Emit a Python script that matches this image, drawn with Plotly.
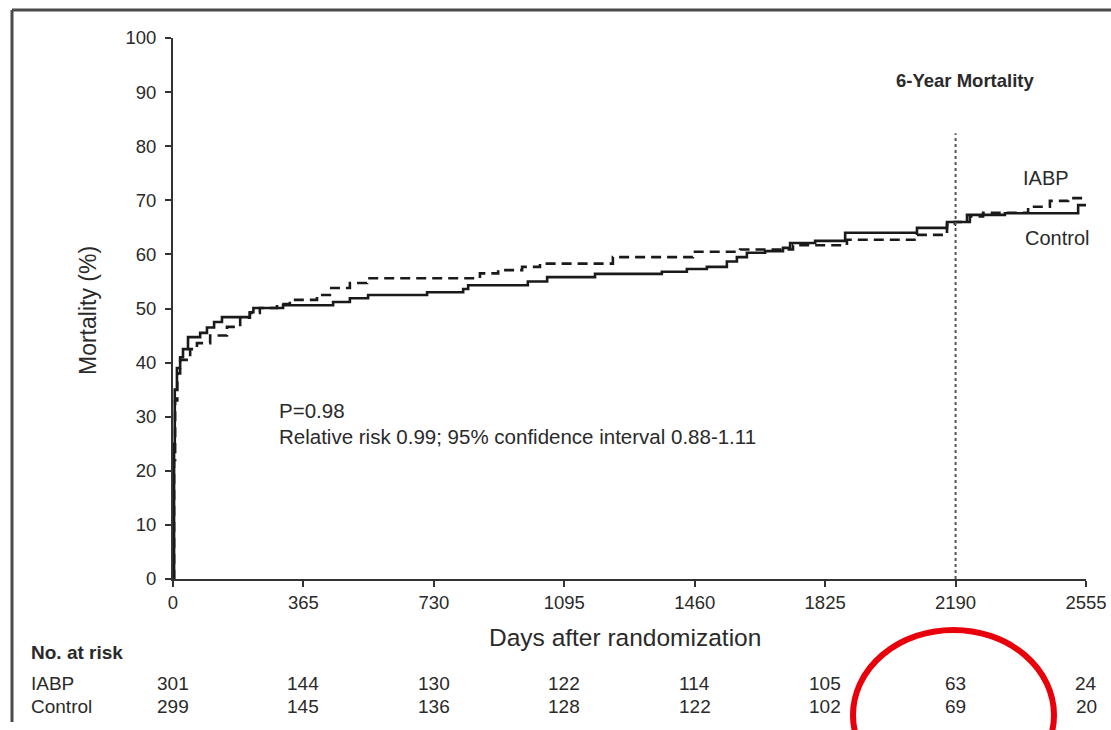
import plotly.graph_objects as go

# ---------------- data ----------------
control_days = [0, 3, 5, 11, 20, 28, 42, 76, 95, 115, 137, 215, 225, 235, 308, 448, 495, 546,
                711, 812, 826, 993, 1047, 1181, 1368, 1438, 1494, 1550, 1578, 1606, 1657, 1707,
                1727, 1797, 1881, 2082, 2166, 2222, 2328, 2533, 2555]
control_mort = [0, 25, 35, 39, 41, 42.5, 44.7, 45.5, 46.5, 47.5, 48.4, 49.3, 50.1, 50.1, 50.6, 51.2,
                51.9, 52.5, 53.0, 53.6, 54.3, 55.0, 55.8, 56.4, 56.8, 57.3, 57.7, 58.7, 59.5, 60.3,
                60.6, 61.2, 62.1, 62.5, 64.0, 64.9, 66.0, 67.3, 67.6, 69.1, 69.1]

iabp_days = [0, 3, 6, 12, 20, 48, 67, 104, 151, 188, 215, 243, 291, 327, 403, 439, 495, 543, 859,
             910, 977, 1027, 1231, 1455, 1587, 1735, 1886, 2082, 2166, 2188, 2230, 2267, 2393,
             2454, 2505, 2547]
iabp_mort = [0, 22, 33, 38, 40.5, 42.5, 43.6, 45.0, 46.6, 48.3, 49.2, 50.1, 50.8, 51.6, 52.5, 53.8,
             54.7, 55.6, 56.5, 57.1, 57.7, 58.3, 59.5, 60.5, 60.9, 61.7, 62.7, 63.6, 65.5, 66.0,
             67.0, 67.7, 68.8, 69.9, 70.4, 70.4]

x_ticks = [0, 365, 730, 1095, 1460, 1825, 2190, 2555]
y_ticks = [0, 10, 20, 30, 40, 50, 60, 70, 80, 90, 100]
risk_groups = ["IABP", "Control"]
at_risk_iabp = [301, 144, 130, 122, 114, 105, 63, 24]
at_risk_control = [299, 145, 136, 128, 122, 102, 69, 20]
marker_day = 2190
marker_top = 82.4

# ---------------- layout helpers ----------------
W, H = 1111, 730
L, R, T, B = 173, 1086, 38, 579
FONT = "Liberation Sans, Arial, sans-serif"
TXT = "#2a2a2a"


def px(x):
    return (x - L) / (R - L)


def py(y):
    return (B - y) / (B - T)


fig = go.Figure()
fig.add_trace(go.Scatter(x=control_days, y=control_mort, mode="lines", line_shape="hv",
                         line=dict(color="#1a1a1a", width=2.6), name="Control", showlegend=False))
fig.add_trace(go.Scatter(x=iabp_days, y=iabp_mort, mode="lines", line_shape="hv",
                         line=dict(color="#1a1a1a", width=2.6, dash="10px,6px"), name="IABP",
                         showlegend=False))

annotations = []


def ann(text, x, y, size=19, bold=False, xanchor="left", xref="paper", **kw):
    if bold:
        text = "<b>" + text + "</b>"
    annotations.append(dict(text=text, x=x, y=y, xref=xref, yref="paper", showarrow=False,
                            xanchor=xanchor, yanchor="middle",
                            font=dict(family=FONT, size=size, color=TXT), **kw))


ann("P=0.98", px(277), py(410), size=20.5)
ann("Relative risk 0.99; 95% confidence interval 0.88-1.11", px(277), py(436), size=20.5)
ann("6-Year Mortality", px(965), py(80), size=18.5, bold=True, xanchor="center")
ann("IABP", px(1021), py(178), size=20)
ann("Control", px(1023), py(238), size=20)
ann("Mortality (%)", px(88), py(311), size=23, xanchor="center", textangle=-90)
ann("Days after randomization", px(625), py(637), size=24.5, xanchor="center")
ann("No. at risk", px(29), py(652), size=19, bold=True)
ann(risk_groups[0], px(29), py(683), size=19)
ann(risk_groups[1], px(29), py(706), size=19)
for d, a, c in zip(x_ticks, at_risk_iabp, at_risk_control):
    ann(str(a), d, py(683), size=19, xanchor="center", xref="x")
    ann(str(c), d, py(706), size=19, xanchor="center", xref="x")

shapes = [
    dict(type="line", xref="x", yref="y", x0=marker_day, x1=marker_day, y0=0, y1=marker_top,
         line=dict(color="#555555", width=2, dash="dot")),
    dict(type="line", xref="paper", yref="paper", x0=px(12), x1=px(12), y0=py(10), y1=py(722),
         line=dict(color="#4a4a4a", width=3)),
    dict(type="line", xref="paper", yref="paper", x0=px(12), x1=px(1115), y0=py(10), y1=py(10),
         line=dict(color="#4a4a4a", width=3)),
    dict(type="circle", xref="paper", yref="paper", x0=px(853), x1=px(1054), y0=py(630),
         y1=py(800), line=dict(color="#e8000b", width=6)),
]

axis_common = dict(showline=True, linecolor="#333333", linewidth=2, ticks="outside", ticklen=6,
                   tickwidth=2, tickcolor="#333333", showgrid=False, zeroline=False,
                   automargin=False, tickfont=dict(family=FONT, size=18.5, color=TXT))

fig.update_layout(
    width=W, height=H, autosize=False,
    margin=dict(l=L, r=W - R, t=T, b=H - B, pad=0, autoexpand=False),
    paper_bgcolor="white", plot_bgcolor="white",
    xaxis=dict(range=[0, 2555], tickvals=x_ticks, ticktext=[str(v) for v in x_ticks], **axis_common),
    yaxis=dict(range=[0, 100], tickvals=y_ticks, ticktext=[str(v) for v in y_ticks],
               ticklabelstandoff=5, **axis_common),
    annotations=annotations, shapes=shapes, showlegend=False,
)

fig.write_html("out.html")
